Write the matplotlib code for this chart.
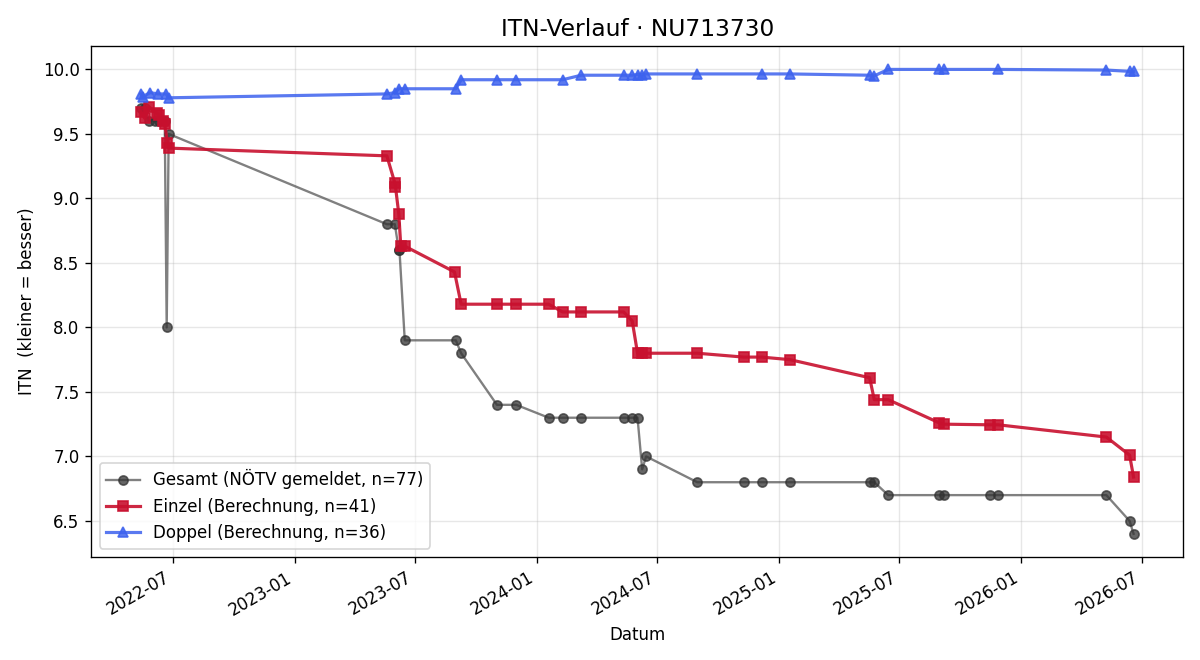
import matplotlib
matplotlib.use("Agg")
import matplotlib.pyplot as plt
import matplotlib.dates as mdates
import numpy as np
import pandas as pd

# Gesamt (NÖTV gemeldet)
gesamtDates = ["2022-05-14", "2022-05-20", "2022-05-26", "2022-06-04", "2022-06-11",
               "2022-06-19", "2022-06-22", "2022-06-25",
               "2023-05-20", "2023-06-01", "2023-06-07", "2023-06-08", "2023-06-16",
               "2023-09-01", "2023-09-09", "2023-11-02", "2023-12-01", "2024-01-19",
               "2024-02-09", "2024-03-08", "2024-05-11", "2024-05-24", "2024-06-01",
               "2024-06-08", "2024-06-14", "2024-08-30", "2024-11-08", "2024-12-05",
               "2025-01-17", "2025-05-17", "2025-05-24", "2025-06-14", "2025-08-30",
               "2025-09-06", "2025-11-15", "2025-11-27", "2026-05-09", "2026-06-13",
               "2026-06-19"]
gesamtValues = [9.7, 9.7, 9.6, 9.6, 9.6, 9.6, 8.0, 9.5,
                8.8, 8.8, 8.6, 8.6, 7.9, 7.9, 7.8, 7.4, 7.4, 7.3,
                7.3, 7.3, 7.3, 7.3, 7.3, 6.9, 7.0, 6.8, 6.8, 6.8,
                6.8, 6.8, 6.8, 6.7, 6.7, 6.7, 6.7, 6.7, 6.7, 6.5, 6.4]

# Einzel (Berechnung)
einzelDates = ["2022-05-14", "2022-05-20", "2022-05-26", "2022-06-07", "2022-06-11",
               "2022-06-16", "2022-06-19", "2022-06-23", "2022-06-25",
               "2023-05-20", "2023-06-01", "2023-06-02", "2023-06-07", "2023-06-10",
               "2023-06-16", "2023-08-30", "2023-09-09", "2023-11-02", "2023-12-01",
               "2024-01-19", "2024-02-09", "2024-03-08", "2024-05-11", "2024-05-24",
               "2024-06-01", "2024-06-08", "2024-06-14", "2024-08-30", "2024-11-08",
               "2024-12-05", "2025-01-17", "2025-05-17", "2025-05-24", "2025-06-14",
               "2025-08-30", "2025-09-06", "2025-11-15", "2025-11-27", "2026-05-09",
               "2026-06-13", "2026-06-19"]
einzelValues = [9.67, 9.62, 9.71, 9.66, 9.65, 9.60, 9.58, 9.43, 9.39,
                9.33, 9.12, 9.09, 8.88, 8.63, 8.63, 8.43, 8.18, 8.18, 8.18,
                8.18, 8.12, 8.12, 8.12, 8.05, 7.80, 7.80, 7.80, 7.80, 7.77,
                7.77, 7.75, 7.61, 7.44, 7.44, 7.26, 7.25, 7.245, 7.245, 7.15,
                7.01, 6.84]

# Doppel (Berechnung)
doppelDates = ["2022-05-14", "2022-05-17", "2022-05-28", "2022-06-09", "2022-06-21",
               "2022-06-25",
               "2023-05-20", "2023-06-01", "2023-06-07", "2023-06-16", "2023-09-01",
               "2023-09-09", "2023-11-02", "2023-12-01", "2024-02-09", "2024-03-08",
               "2024-05-11", "2024-05-24", "2024-06-01", "2024-06-08", "2024-06-14",
               "2024-08-30", "2024-12-05", "2025-01-17", "2025-05-17", "2025-05-24",
               "2025-06-14", "2025-08-30", "2025-09-06", "2025-11-27", "2026-05-09",
               "2026-06-13", "2026-06-19"]
doppelValues = [9.81, 9.79, 9.82, 9.81, 9.81, 9.78,
                9.81, 9.82, 9.85, 9.85, 9.85, 9.92, 9.92, 9.92, 9.92, 9.955,
                9.955, 9.955, 9.96, 9.96, 9.965, 9.965, 9.965, 9.965, 9.955, 9.95,
                10.0, 10.0, 10.0, 10.0, 9.995, 9.985, 9.985]

gesamtDates = pd.to_datetime(gesamtDates)
einzelDates = pd.to_datetime(einzelDates)
doppelDates = pd.to_datetime(doppelDates)

fig, ax = plt.subplots(figsize=(10, 5.5), dpi=120)

ax.plot(gesamtDates, gesamtValues, "-o", color="#555555", alpha=0.75, linewidth=1.4,
        markersize=5.5, markerfacecolor="#333333", markeredgecolor="#333333",
        label="Gesamt (NÖTV gemeldet, n=77)")
ax.plot(einzelDates, einzelValues, "-s", color="#c8102e", alpha=0.9, linewidth=1.9,
        markersize=6.5, label="Einzel (Berechnung, n=41)")
ax.plot(doppelDates, doppelValues, "-^", color="#3d62ee", alpha=0.85, linewidth=1.9,
        markersize=6.5, label="Doppel (Berechnung, n=36)")

ax.set_title("ITN-Verlauf · NU713730", fontsize=14)
ax.set_xlabel("Datum")
ax.set_ylabel("ITN  (kleiner = besser)")
ax.grid(True, alpha=0.3)
ax.xaxis.set_major_locator(mdates.MonthLocator(bymonth=[1, 7]))
ax.xaxis.set_major_formatter(mdates.DateFormatter("%Y-%m"))
ax.legend(loc="lower left")
fig.autofmt_xdate()
# autofmt_xdate resets the bottom margin, so set the layout afterwards
fig.subplots_adjust(left=0.076, right=0.986, top=0.930, bottom=0.156)
fig.savefig("out.png")
